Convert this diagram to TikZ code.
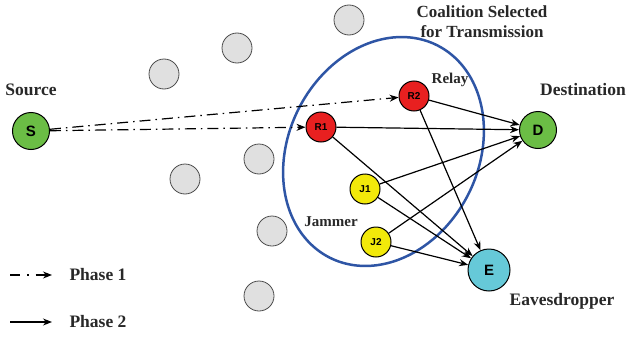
\documentclass[tikz,border=0pt]{standalone}
\usepackage{fontspec}
\setmainfont{Liberation Serif}
\setsansfont{Liberation Sans}
\usetikzlibrary{arrows.meta}
\definecolor{nodegreen}{RGB}{107,189,69}
\definecolor{nodered}{RGB}{232,32,32}
\definecolor{nodeyellow}{RGB}{242,233,10}
\definecolor{nodecyan}{RGB}{102,201,216}
\definecolor{idlegray}{RGB}{224,224,224}
\definecolor{coalblue}{RGB}{46,85,165}
\definecolor{labelgray}{RGB}{40,40,40}
\tikzset{
  agent/.style={circle, draw=black, line width=1pt, inner sep=0pt, font=\sffamily\bfseries},
  bignode/.style={agent, minimum size=36pt, font=\sffamily\bfseries\fontsize{15}{15}\selectfont},
  smallnode/.style={agent, minimum size=30pt, font=\sffamily\bfseries\fontsize{10}{10}\selectfont},
  idle/.style={circle, draw=black!70, line width=0.8pt, fill=idlegray, minimum size=30pt, inner sep=0pt},
  caption/.style={font=\bfseries\fontsize{17.5}{20}\selectfont, text=labelgray, align=center},
  smallcaption/.style={font=\bfseries\fontsize{15}{17}\selectfont, text=labelgray},
  tip/.style={-{Stealth[length=9pt,width=7pt]}},
  phaseone/.style={tip, line width=1.2pt, dash pattern=on 11pt off 5pt on 1.5pt off 5pt},
  phasetwo/.style={tip, line width=1.2pt},
}
\begin{document}
\begin{tikzpicture}[x=1pt,y=-1pt]
\useasboundingbox (0,0) rectangle (629,340);

% coalition boundary: tilted ellipse round the selected relays and jammers
\def\ea{119}\def\eb{95}\def\ephi{63}
\draw[coalblue, line width=2.5pt] plot[domain=0:360, samples=120, smooth cycle, variable=\t]
  ({383.5 + \ea*cos(\t)*cos(\ephi) + \eb*sin(\t)*sin(\ephi)},
   {151.5 - \ea*cos(\t)*sin(\ephi) + \eb*sin(\t)*cos(\ephi)});

% idle users outside the coalition
\node[idle] (g1) at (349,20) {};
\node[idle] (g2) at (237,48) {};
\node[idle] (g3) at (164,74) {};
\node[idle] (g4) at (259,159) {};
\node[idle] (g5) at (185,179) {};
\node[idle] (g6) at (272,231) {};
\node[idle] (g7) at (259,296) {};

% main nodes
\node[bignode, fill=nodegreen, minimum size=37pt] (S) at (31,131) {S};
\node[bignode, fill=nodegreen, minimum size=37pt] (D) at (538,130) {D};
\node[bignode, fill=nodecyan, minimum size=42pt] (E) at (489,270) {E};
\node[smallnode, fill=nodered] (R1) at (321,127) {R1};
\node[smallnode, fill=nodered] (R2) at (414,96) {R2};
\node[smallnode, fill=nodeyellow] (J1) at (365,189) {J1};
\node[smallnode, fill=nodeyellow] (J2) at (376,242) {J2};

% phase 1: broadcast from the source
\draw[phaseone] (S) -- (R1);
\draw[phaseone] (S) -- (R2);

% phase 2: relays forward, jammers interfere
\draw[phasetwo] (R1) -- (D);
\draw[phasetwo] (R2) -- (D);
\draw[phasetwo] (J1) -- (D);
\draw[phasetwo] (J2) -- (D);
\draw[phasetwo] (R1) -- (E);
\draw[phasetwo] (R2) -- (E);
\draw[phasetwo] (J1) -- (E);
\draw[phasetwo] (J2) -- (E);

% labels
\node[caption] (lsrc) at (31,90) {Source};
\node[caption] (ldst) at (583,90) {Destination};
\node[caption] (leve) at (562,301) {Eavesdropper};
\node[caption, font=\bfseries\fontsize{17}{20}\selectfont] (lcoal) at (482,22) {Coalition Selected\\for Transmission};
\node[smallcaption] (lrel) at (450,80) {Relay};
\node[smallcaption] (ljam) at (331,222) {Jammer};

% legend
\coordinate (p1a) at (10,275);
\coordinate (p1b) at (52,275);
\coordinate (p2a) at (10,322);
\coordinate (p2b) at (52,322);
\draw[phaseone, dash pattern=on 10pt off 7pt on 1.5pt off 7pt] (p1a) -- (p1b);
\draw[phasetwo] (p2a) -- (p2b);
\node[caption, anchor=west] (lp1) at (66,275) {Phase 1};
\node[caption, anchor=west] (lp2) at (66,322) {Phase 2};
\end{tikzpicture}
\end{document}
